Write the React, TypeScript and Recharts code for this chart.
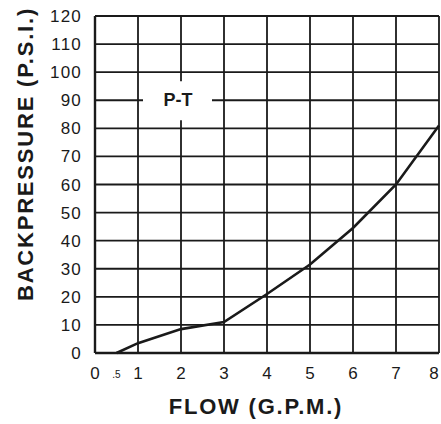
import React from "react";
import { CartesianGrid, Line, LineChart, ReferenceDot, ReferenceLine, XAxis, YAxis, Label } from "recharts";

const FLOW = [0.5, 1, 2, 3, 4, 5, 6, 7, 8];
const BACKPRESSURE = [0, 3.5, 8.5, 11, 21, 31.5, 44.5, 60, 81];
const X_TICKS = [0, 0.5, 1, 2, 3, 4, 5, 6, 7, 8];
const X_GRID = [1, 2, 3, 4, 5, 6, 7, 8];
const Y_TICKS = [0, 10, 20, 30, 40, 50, 60, 70, 80, 90, 100, 110, 120];

const data = FLOW.map((f, i) => ({ flow: f, psi: BACKPRESSURE[i] }));

const INK = "#1a1a1a";
const FONT = "'Liberation Sans', Arial, Helvetica, sans-serif";

function FlowTick(props: any) {
  const { x, y, payload } = props;
  const half = payload.value === 0.5;
  // last label sits on the page edge, nudge it in so it stays readable
  const last = payload.value === 8;
  return (
    <text
      x={last ? x - 5 : x}
      y={y}
      dy={half ? 11 : 12}
      textAnchor="middle"
      fontFamily={FONT}
      fontSize={half ? 10 : 17}
      fill={INK}
    >
      {half ? ".5" : payload.value}
    </text>
  );
}

function CurveTag(props: any) {
  const { cx, cy } = props;
  return (
    <g>
      <rect x={cx - 38} y={cy - 19} width={69} height={39} fill="#fff" />
      <text
        x={cx - 3}
        y={cy + 6}
        textAnchor="middle"
        fontFamily={FONT}
        fontSize={18}
        fontWeight="bold"
        fill={INK}
      >
        P-T
      </text>
    </g>
  );
}

export default function App() {
  return (
    <div style={{ position: "absolute", left: 0, top: 0, width: 441, height: 424, background: "#fff" }}>
      <LineChart
        width={441}
        height={424}
        data={data}
        margin={{ top: 16, right: 2, bottom: 0, left: 0 }}
      >
        <CartesianGrid vertical={false} stroke={INK} strokeWidth={1.8} />
        {X_GRID.map((v) => (
          <ReferenceLine key={v} x={v} stroke={INK} strokeWidth={1.8} />
        ))}
        <XAxis
          type="number"
          dataKey="flow"
          domain={[0, 8]}
          ticks={X_TICKS}
          interval={0}
          height={71}
          tickLine={false}
          tickSize={6}
          tickMargin={8}
          axisLine={{ stroke: INK, strokeWidth: 2.4 }}
          tick={<FlowTick />}
        >
          <Label
            content={() => (
              <text
                x={256}
                y={414}
                textAnchor="middle"
                fontFamily={FONT}
                fontSize={22}
                fontWeight="bold"
                letterSpacing={1.8}
                fill={INK}
              >
                FLOW (G.P.M.)
              </text>
            )}
          />
        </XAxis>
        <YAxis
          type="number"
          domain={[0, 120]}
          ticks={Y_TICKS}
          interval={0}
          width={95}
          tickLine={false}
          tickSize={6}
          tickMargin={7}
          axisLine={{ stroke: INK, strokeWidth: 2.4 }}
          tick={{ fontFamily: FONT, fontSize: 17, fill: INK, letterSpacing: 1.2 }}
        >
          <Label
            content={() => (
              <text
                x={25}
                y={154}
                transform="rotate(-90 25 154)"
                textAnchor="middle"
                dominantBaseline="central"
                fontFamily={FONT}
                fontSize={22}
                fontWeight="bold"
                letterSpacing={1.8}
                fill={INK}
              >
                BACKPRESSURE (P.S.I.)
              </text>
            )}
          />
        </YAxis>
        <ReferenceDot x={2} y={90} r={0} shape={<CurveTag />} />
        <Line
          type="linear"
          dataKey="psi"
          stroke={INK}
          strokeWidth={2.6}
          dot={false}
          isAnimationActive={false}
        />
      </LineChart>
    </div>
  );
}
